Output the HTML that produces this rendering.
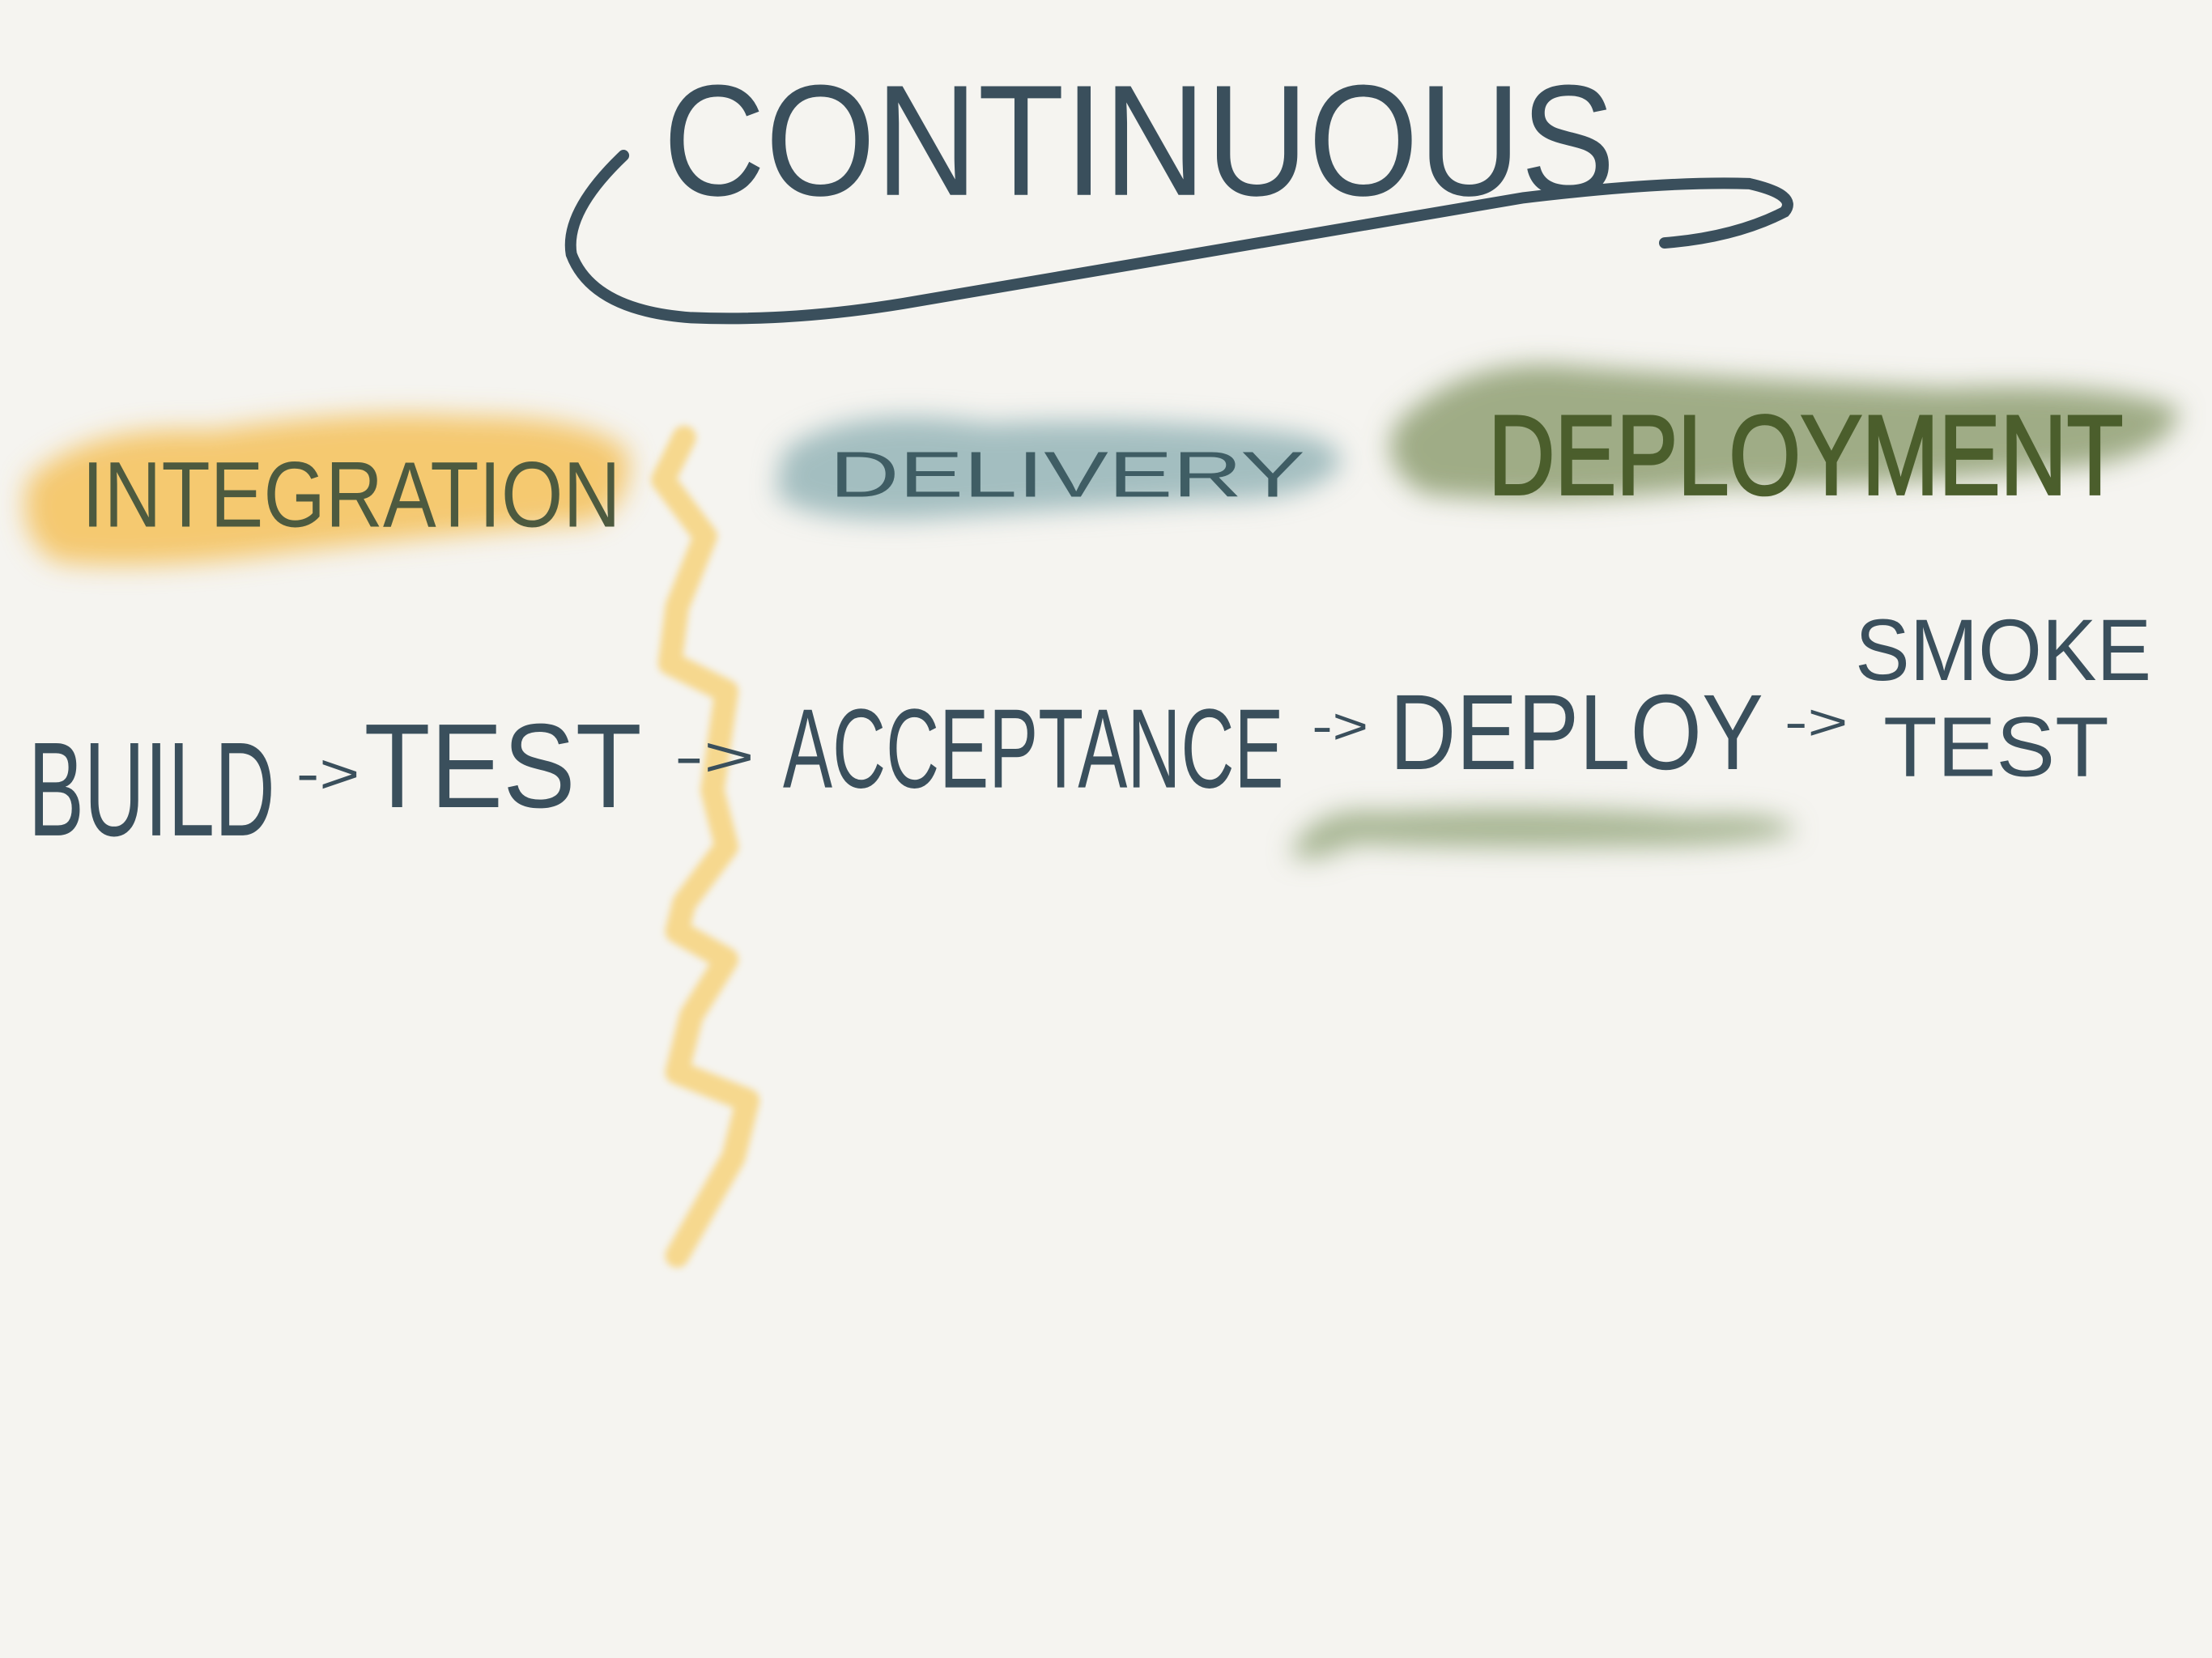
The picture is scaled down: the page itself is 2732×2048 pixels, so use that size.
<!DOCTYPE html>
<html><head><meta charset="utf-8"><style>
html,body{margin:0;padding:0;background:#f5f4f0;}
svg{display:block}
text{font-family:"Liberation Sans",sans-serif;}
</style></head><body>
<svg width="2732" height="2048" viewBox="0 0 1568 1175" xmlns="http://www.w3.org/2000/svg">
<defs>
<filter id="b" x="-20%" y="-50%" width="140%" height="200%"><feGaussianBlur stdDeviation="9"/></filter>
<filter id="b2" x="-20%" y="-20%" width="140%" height="140%"><feGaussianBlur stdDeviation="2.5"/></filter>
</defs>
<rect width="1568" height="1175" fill="#f5f4f0"/>
<g filter="url(#b)">
<path d="M20,340 Q60,300 150,305 Q250,290 330,295 Q420,295 445,320 Q450,355 420,370 Q300,380 200,392 Q100,405 40,398 Q10,380 20,340Z" fill="#f5c15a" opacity="0.85"/>
<path d="M555,320 Q600,285 700,300 Q800,295 900,305 Q955,310 950,330 Q930,355 860,355 Q760,360 650,368 Q570,370 550,350Z" fill="#8fb0b4" opacity="0.8"/>
<path d="M990,300 Q1040,250 1120,260 Q1250,270 1380,275 Q1500,270 1545,290 Q1540,320 1480,330 Q1350,345 1220,345 Q1100,360 1010,350 Q975,330 990,300Z" fill="#8f9f73" opacity="0.85"/>
<path d="M915,605 Q930,570 980,575 Q1100,570 1200,578 Q1270,575 1272,590 Q1240,600 1150,600 Q1050,602 960,598 Q925,615 915,605Z" fill="#9aaa82" opacity="0.85"/>
</g>
<polyline filter="url(#b2)" points="485,310 470,340 500,380 480,430 475,470 515,490 505,560 515,600 485,640 480,660 515,680 490,720 480,760 530,780 520,820 480,890" fill="none" stroke="#f6d88e" stroke-width="17" stroke-linejoin="round" stroke-linecap="round"/>
<text x="470" y="138" font-size="112" textLength="675" lengthAdjust="spacingAndGlyphs" fill="#3a4f5c">CONTINUOUS</text>
<path d="M442,110 Q400,150 405,180 Q420,220 490,225 Q560,228 640,215 Q900,170 1080,140 Q1180,128 1240,130 Q1275,138 1265,150 Q1230,168 1180,172" fill="none" stroke="#3a4f5c" stroke-width="8" stroke-linecap="round"/>
<text x="58" y="373" font-size="66" textLength="382" lengthAdjust="spacingAndGlyphs" fill="#4d5a3f">INTEGRATION</text>
<text x="588" y="352" font-size="46" textLength="337" lengthAdjust="spacingAndGlyphs" fill="#3f5d64">DELIVERY</text>
<text x="1055" y="350" font-size="80" textLength="450" lengthAdjust="spacingAndGlyphs" fill="#4b5e2c" stroke="#4b5e2c" stroke-width="2">DEPLOYMENT</text>
<g fill="#3a4f5c">
<text x="20" y="592" font-size="95" textLength="175" lengthAdjust="spacingAndGlyphs">BUILD</text>
<text x="210" y="562" font-size="40" textLength="45" lengthAdjust="spacingAndGlyphs">-&gt;</text>
<text x="258" y="572" font-size="85" textLength="197" lengthAdjust="spacingAndGlyphs">TEST</text>
<text x="478" y="550" font-size="40" textLength="57" lengthAdjust="spacingAndGlyphs">-&gt;</text>
<text x="555" y="558" font-size="80" textLength="355" lengthAdjust="spacingAndGlyphs">ACCEPTANCE</text>
<text x="930" y="527" font-size="36" textLength="40" lengthAdjust="spacingAndGlyphs">-&gt;</text>
<text x="985" y="545" font-size="76" textLength="265" lengthAdjust="spacingAndGlyphs">DEPLOY</text>
<text x="1265" y="524" font-size="36" textLength="45" lengthAdjust="spacingAndGlyphs">-&gt;</text>
<text x="1315" y="482" font-size="62" textLength="210" lengthAdjust="spacingAndGlyphs">SMOKE</text>
<text x="1335" y="550" font-size="60" textLength="160" lengthAdjust="spacingAndGlyphs">TEST</text>
</g>
</svg>
</body></html>
